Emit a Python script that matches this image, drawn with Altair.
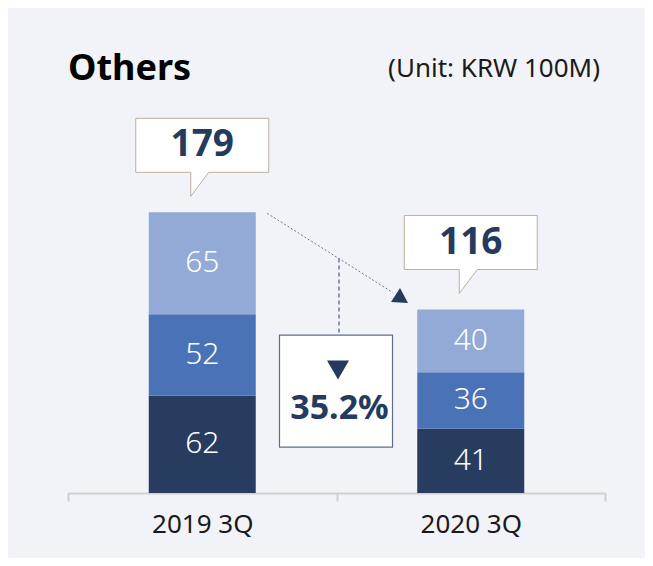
import altair as alt
import pandas as pd

# ---------------- data ----------------
periods = ["2019 3Q", "2020 3Q"]
series = ["Segment 1", "Segment 2", "Segment 3"]          # bottom -> top
values_2019 = [62, 52, 65]
values_2020 = [41, 36, 40]
totals = [179, 116]                                        # labels shown in the callouts
colors = ["#283c5f", "#4a72b6", "#92aad5"]
title_text = "Others"
unit_text = "(Unit: KRW 100M)"

# ---------------- tables ----------------
rows = []
for p, vals in zip(periods, [values_2019, values_2020]):
    for i, (s, v) in enumerate(zip(series, vals)):
        rows.append({"period": p, "series": s, "order": i, "value": v})
seg = pd.DataFrame(rows)

stack_tops = [sum(values_2019), sum(values_2020)]
tot = pd.DataFrame({"period": periods, "stack_top": stack_tops, "total": totals})

pct = (totals[0] - totals[1]) / totals[0] * 100
chg = pd.DataFrame({
    "from_period": [periods[0]], "to_period": [periods[1]],
    "from_top": [stack_tops[0]], "to_top": [stack_tops[1]],
    "pct_label": [f"{pct:.1f}%"],
})
title_df = pd.DataFrame({"t": [title_text]})
unit_df = pd.DataFrame({"t": [unit_text]})

# ---------------- shared encodings ----------------
FONT = "Noto Sans"
NAVY = "#243a5e"
xscale = alt.Scale(domain=periods, paddingInner=0, paddingOuter=0)
yscale = alt.Scale(domain=[0, 250])

x_axis = alt.Axis(labelAngle=0, labelFont=FONT, labelFontSize=26,
                  labelColor="#1a1a1a", labelPadding=10,
                  domainColor="#cfcfd4", domainWidth=2,
                  tickColor="#cfcfd4", tickWidth=2, tickSize=8,
                  tickBand="extent", grid=False, title=None)


def xc(field, band=0.5):
    return alt.X(f"{field}:N", scale=xscale, bandPosition=band, axis=x_axis, title=None)


def yv(field):
    return alt.Y(f"{field}:Q", scale=yscale, axis=None, title=None)


# ---------------- layers ----------------
base_seg = alt.Chart(seg).transform_stack(
    stack="value", groupby=["period"], as_=["y0", "y1"],
    sort=[alt.SortField("order", order="ascending")]
).transform_calculate(mid="(datum.y0 + datum.y1) / 2")

bars = base_seg.mark_bar(size=107).encode(
    x=alt.X("period:N", scale=xscale, axis=x_axis, title=None),
    y=alt.Y("y0:Q", scale=yscale, axis=None, title=None),
    y2="y1:Q",
    color=alt.Color("series:N", scale=alt.Scale(domain=series, range=colors), legend=None),
)

seg_labels = base_seg.mark_text(font=FONT, fontSize=30, fontWeight=300,
                                color="white", baseline="middle").encode(
    x=xc("period"), y=yv("mid"), text="value:Q")

CALLOUT = "M-66.5,-94H66.5V-40H6.5L-11.5,-16V-40H-66.5Z"
callouts = alt.Chart(tot).mark_point(
    shape=CALLOUT, size=4, filled=True, fill="white", stroke="#bcae9f",
    strokeWidth=1, opacity=1, fillOpacity=1, strokeOpacity=1
).encode(x=xc("period"), y=yv("stack_top"))

callout_text = alt.Chart(tot).mark_text(
    font=FONT, fontSize=37, fontWeight="bold", color=NAVY, baseline="middle", dy=-67
).encode(x=xc("period"), y=yv("stack_top"), text="total:Q")

diag = alt.Chart(chg).mark_rule(
    color="#6b7a94", strokeWidth=1, strokeDash=[2, 2],
    xOffset=65, yOffset=1, x2Offset=-78, y2Offset=-17
).encode(x=xc("from_period"), y=yv("from_top"), x2="to_period:N", y2="to_top:Q")

vline = alt.Chart(chg).mark_rule(
    color="#6b7a94", strokeWidth=1.5, strokeDash=[4, 3],
    xOffset=2.5, yOffset=-51, y2Offset=24
).encode(x=xc("to_period", 0), y=yv("to_top"), y2="to_top:Q")

ARROW = "M-70.75,-21.5L-79.75,-7.5L-62.75,-6.5Z"
arrow = alt.Chart(chg).mark_point(
    shape=ARROW, size=4, filled=True, fill=NAVY, strokeWidth=0, opacity=1, fillOpacity=1
).encode(x=xc("to_period"), y=yv("to_top"))

PBOX = "M-57,25.5H56V137.5H-57Z"
pbox = alt.Chart(chg).mark_point(
    shape=PBOX, size=4, filled=True, fill="white", stroke="#5e6d87",
    strokeWidth=1.2, opacity=1, fillOpacity=1, strokeOpacity=1
).encode(x=xc("to_period", 0), y=yv("to_top"))

DOWN = "M-9.5,51H12.5L1.5,70Z"
down_tri = alt.Chart(chg).mark_point(
    shape=DOWN, size=4, filled=True, fill=NAVY, strokeWidth=0, opacity=1, fillOpacity=1
).encode(x=xc("to_period", 0), y=yv("to_top"))

pct_text = alt.Chart(chg).mark_text(
    font=FONT, fontSize=34, fontWeight="bold", color=NAVY, baseline="middle", dx=3, dy=99
).encode(x=xc("to_period", 0), y=yv("to_top"), text="pct_label:N")

title = alt.Chart(title_df).mark_text(
    font=FONT, fontSize=36, fontWeight="bold", color="#000000", align="left",
    baseline="alphabetic"
).encode(x=alt.value(0), y=alt.value(-21), text="t:N")

unit = alt.Chart(unit_df).mark_text(
    font=FONT, fontSize=26, color="#1a1a1a", align="right", baseline="alphabetic"
).encode(x=alt.value(532), y=alt.value(-24), text="t:N")

chart = alt.layer(
    bars, seg_labels, diag, vline, arrow, callouts, callout_text,
    pbox, down_tri, pct_text, title, unit
).properties(
    width=537, height=392,
    padding={"left": 60, "top": 93, "right": 40, "bottom": 65},
    autosize=alt.AutoSizeParams(type="none"),
    background="#f2f3f9",
).configure_view(stroke=None)

chart.save("out.html", embed_options={"renderer": "svg", "actions": False})
